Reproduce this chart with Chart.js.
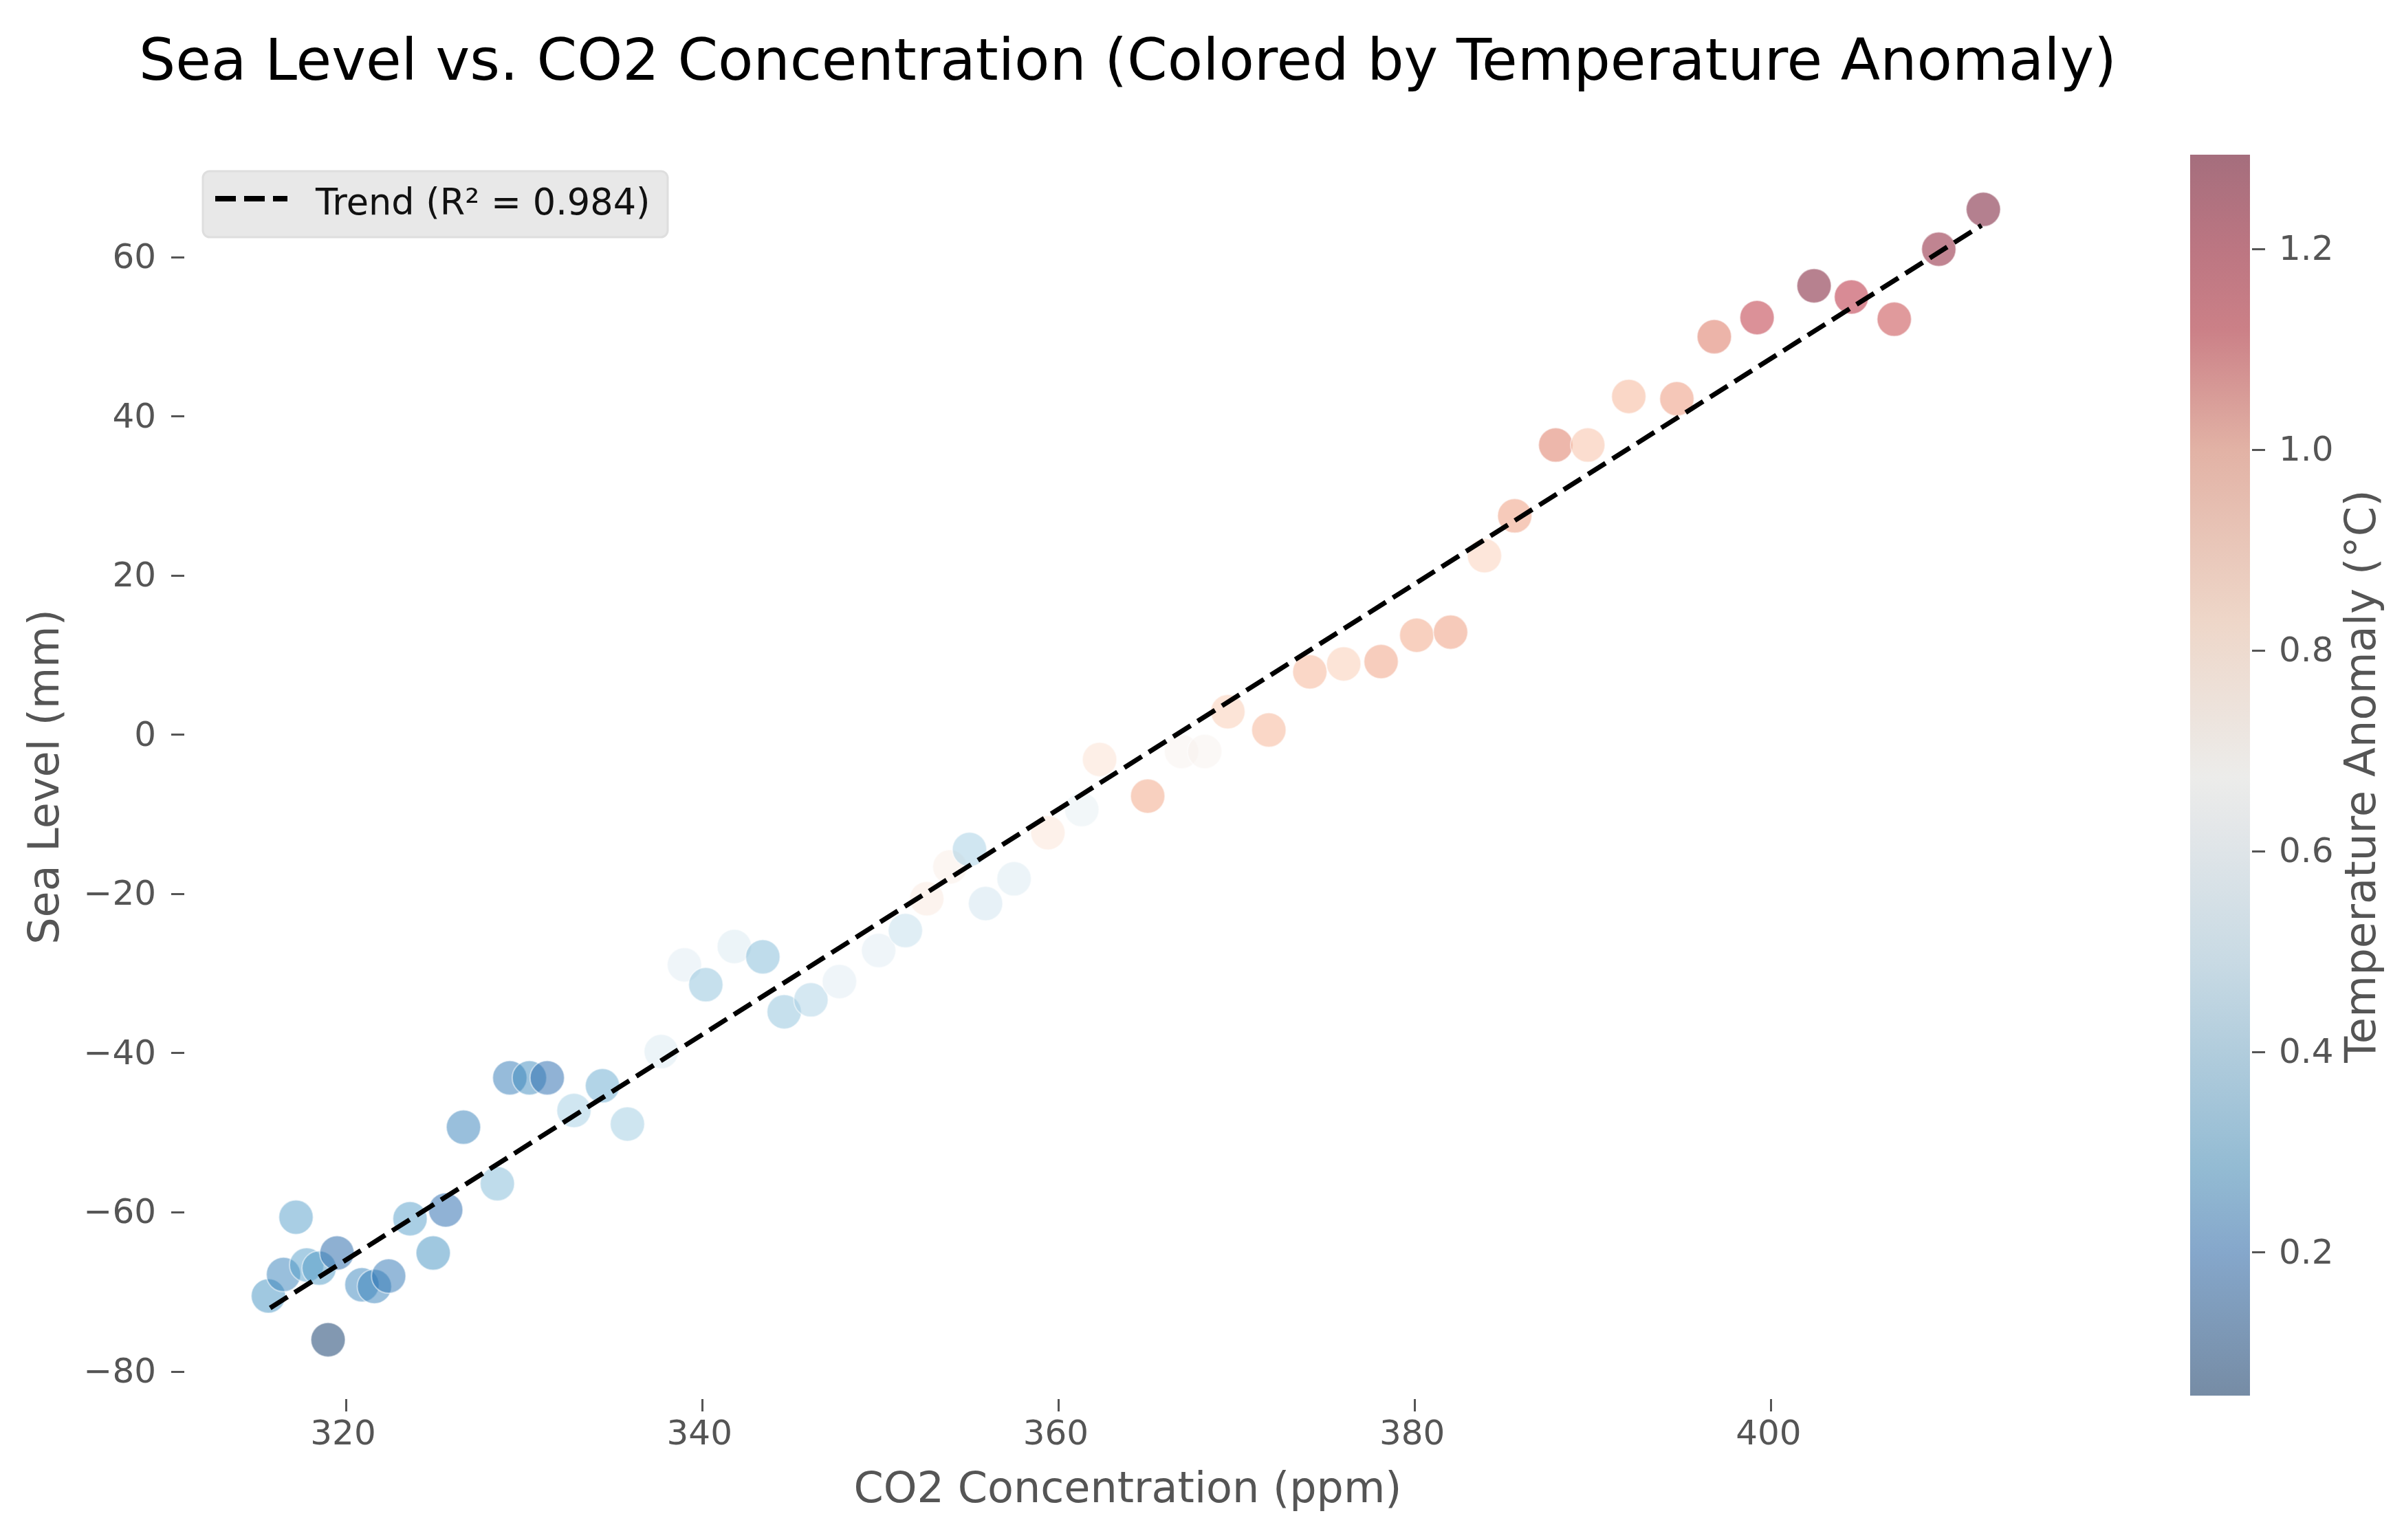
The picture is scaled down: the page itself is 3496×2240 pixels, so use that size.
<!DOCTYPE html>
<html>
<head>
<meta charset="utf-8">
<title>Sea Level vs. CO2</title>
<script src="https://cdn.jsdelivr.net/npm/chart.js@4"></script>
<style>
    html, body { margin: 0; padding: 0; background: #fff; }
    #page { position: relative; width: 3496px; height: 2240px; overflow: hidden; }
    #scatter { position: absolute; left: 0; top: 0; }
    #colorbar { position: absolute; left: 3100px; top: 0; }
</style>
</head>
<body>
<div id="page">
    <canvas id="scatter" width="3280" height="2240"></canvas>
    <canvas id="colorbar" width="396" height="2240"></canvas>
</div>
<script>
var co2 = [315.65, 316.5, 317.2, 317.8, 318.5, 319.5, 319.0, 320.9, 321.6, 322.4, 323.6, 324.9, 325.6, 326.6, 328.5, 329.2,
    330.3, 331.3, 332.8, 334.4, 335.8, 337.7, 339.0, 340.2, 341.8, 343.4, 344.6, 346.1, 347.7, 349.9, 351.4, 352.6,
    353.9, 355.0, 355.9, 357.5, 359.4, 361.3, 362.3, 365.0, 366.9, 368.2, 369.5, 371.8, 374.1, 376.0, 378.1, 380.1,
    382.0, 383.9, 385.6, 387.9, 389.7, 392.0, 394.7, 396.8, 399.2, 402.4, 404.5, 406.9, 409.4, 411.9];
var seaLevel = [-70.5, -67.8, -60.6, -66.6, -67, -65.1, -76, -69.1, -69.3, -68, -60.8, -65.1, -59.7, -49.3, -56.4, -43.1,
    -43.1, -43.1, -47.2, -44.1, -48.9, -39.8, -28.9, -31.4, -26.6, -27.9, -34.8, -33.3, -31, -27.1, -24.6, -20.6,
    -16.6, -14.4, -21.2, -18.1, -12.3, -9.4, -3.1, -7.7, -2.1, -2.1, 2.9, 0.6, 7.9, 8.9, 9.2, 12.5,
    12.9, 22.5, 27.5, 36.4, 36.4, 42.5, 42.2, 50, 52.4, 56.4, 55, 52.2, 61, 66];
var tempAnomaly = [0.3, 0.25, 0.33, 0.33, 0.32, 0.17, 0.06, 0.27, 0.25, 0.22, 0.33, 0.3, 0.18, 0.25, 0.4, 0.23,
    0.28, 0.18, 0.46, 0.36, 0.45, 0.58, 0.6, 0.42, 0.58, 0.4, 0.42, 0.48, 0.6, 0.6, 0.52, 0.74,
    0.72, 0.46, 0.55, 0.58, 0.76, 0.62, 0.78, 0.93, 0.7, 0.7, 0.84, 0.9, 0.9, 0.84, 0.94, 0.93,
    0.95, 0.83, 0.95, 1.02, 0.87, 0.9, 0.96, 1.03, 1.15, 1.28, 1.17, 1.12, 1.25, 1.29];

var trendX = [315.75, 411.8];
var trendY = [-72, 64];
var trendLabel = 'Trend (R² = 0.984)';

var xTicks = [320, 340, 360, 380, 400];
var yTicks = [-80, -60, -40, -20, 0, 20, 40, 60];
var tempTicks = [0.2, 0.4, 0.6, 0.8, 1.0, 1.2];
var tempRange = [0.0575, 1.294];

// RdBu_r
var cmap = [[5, 48, 97], [33, 102, 172], [67, 147, 195], [146, 197, 222], [209, 229, 240], [247, 247, 247],
    [253, 219, 199], [244, 165, 130], [214, 96, 77], [178, 24, 43], [103, 0, 31]];
var pointAlpha = 0.5;

// the colorbar in the picture is greyer than the points, so it has its own colours
var barValues = [0.0575, 0.2, 0.284, 0.489, 0.626, 0.674, 0.831, 1.0, 1.12, 1.2, 1.294];
var barColors = ['rgb(118,140,165)', 'rgb(133,167,203)', 'rgb(147,187,211)', 'rgb(200,218,228)', 'rgb(228,231,233)', 'rgb(236,236,234)',
    'rgb(238,214,200)', 'rgb(226,178,165)', 'rgb(203,128,135)', 'rgb(188,118,130)', 'rgb(165,110,125)'];

var fontFamily = '"DejaVu Sans"';
var gray = '#555555';

Chart.defaults.font.family = fontFamily;
Chart.defaults.color = gray;

function tempColor(v) {
    var t = (v - tempRange[0]) / (tempRange[1] - tempRange[0]);
    var pos = Math.min(Math.max(t, 0), 1) * (cmap.length - 1);
    var i = Math.min(Math.floor(pos), cmap.length - 2);
    var f = pos - i;
    var c = [0, 1, 2].map(function (k) {
        return Math.round(cmap[i][k] + (cmap[i + 1][k] - cmap[i][k]) * f);
    });
    return 'rgba(' + c[0] + ',' + c[1] + ',' + c[2] + ',' + pointAlpha + ')';
}

function minusSign(value) {
    return String(value).replace('-', '\u2212');
}

// legend box sits inside the plot, Chart.js has no option for that
var legendBox = {
    id: 'legendBox',
    afterDraw: function (chart) {
        var ctx = chart.ctx;
        ctx.save();
        ctx.beginPath();
        ctx.roundRect(295, 249, 676, 96, 10);
        ctx.fillStyle = '#e8e8e8';
        ctx.fill();
        ctx.lineWidth = 3;
        ctx.strokeStyle = '#dedede';
        ctx.stroke();

        ctx.beginPath();
        ctx.setLineDash([30, 12]);
        ctx.moveTo(313, 289);
        ctx.lineTo(418, 289);
        ctx.lineWidth = 8;
        ctx.strokeStyle = '#000';
        ctx.stroke();
        ctx.setLineDash([]);

        ctx.fillStyle = '#111';
        ctx.font = '52.5px ' + fontFamily;
        ctx.textBaseline = 'alphabetic';
        ctx.fillText(trendLabel, 459, 312);
        ctx.restore();
    }
};

new Chart(document.getElementById('scatter'), {
    type: 'scatter',
    plugins: [legendBox],
    data: {
        datasets: [{
            label: trendLabel,
            data: trendX.map(function (x, i) { return { x: x, y: trendY[i] }; }),
            showLine: true,
            borderColor: '#000',
            borderWidth: 7,
            borderDash: [30, 12],
            pointRadius: 0,
            order: 0
        }, {
            label: 'Sea Level',
            data: co2.map(function (x, i) { return { x: x, y: seaLevel[i] }; }),
            backgroundColor: tempAnomaly.map(tempColor),
            borderColor: 'rgba(255,255,255,0.5)',
            borderWidth: 2,
            pointRadius: 25,
            order: 1
        }]
    },
    options: {
        responsive: false,
        animation: false,
        devicePixelRatio: 1,
        layout: { padding: 0 },
        plugins: {
            legend: { display: false },
            tooltip: { enabled: false },
            title: {
                display: true,
                text: 'Sea Level vs. CO2 Concentration (Colored by Temperature Anomaly)',
                color: '#000',
                font: { size: 84, weight: 'normal', lineHeight: 1.2 },
                padding: { top: 44, bottom: 80.2 }
            }
        },
        scales: {
            x: {
                type: 'linear',
                min: 310.93,
                max: 416.83,
                border: { display: false },
                grid: { drawOnChartArea: false, drawTicks: true, tickLength: 18, tickWidth: 3, tickColor: gray },
                afterBuildTicks: function (scale) {
                    scale.ticks = xTicks.map(function (v) { return { value: v }; });
                },
                afterFit: function (scale) { scale.height = 205; },
                ticks: { font: { size: 50 }, color: gray, padding: 5, labelOffset: -4, maxRotation: 0, autoSkip: false },
                title: {
                    display: true,
                    text: 'CO2 Concentration (ppm)',
                    color: gray,
                    font: { size: 62, lineHeight: 1.2 },
                    padding: { top: 0, bottom: 34 }
                }
            },
            y: {
                type: 'linear',
                min: -83.45,
                max: 72.87,
                border: { display: false },
                grid: { drawOnChartArea: false, drawTicks: true, tickLength: 19, tickWidth: 3, tickColor: gray },
                afterBuildTicks: function (scale) {
                    scale.ticks = yTicks.map(function (v) { return { value: v }; });
                },
                afterFit: function (scale) { scale.width = 268; },
                ticks: {
                    font: { size: 50 },
                    color: gray,
                    padding: 22,
                    labelOffset: 3,
                    autoSkip: false,
                    callback: function (value) { return minusSign(value); }
                },
                title: {
                    display: true,
                    text: 'Sea Level (mm)',
                    color: gray,
                    font: { size: 62, lineHeight: 1.2 },
                    padding: { top: 32, bottom: 0 }
                }
            },
            // empty axis, only keeps the plot clear of the colorbar and the title centred
            spacer: {
                axis: 'y',
                position: 'right',
                min: 0,
                max: 1,
                border: { display: false },
                grid: { display: false },
                ticks: { display: false },
                afterFit: function (scale) { scale.width = 268; }
            }
        }
    }
});

// rotated label, a right hand axis title would read the other way
var colorbarLabel = {
    id: 'colorbarLabel',
    afterDraw: function (chart) {
        var ctx = chart.ctx;
        ctx.save();
        ctx.translate(338, 1129);
        ctx.rotate(-Math.PI / 2);
        ctx.textAlign = 'center';
        ctx.textBaseline = 'middle';
        ctx.fillStyle = gray;
        ctx.font = '62.5px ' + fontFamily;
        ctx.fillText('Temperature Anomaly (°C)', 0, 0);
        ctx.restore();
    }
};

function colorbarFill(context) {
    var chart = context.chart;
    if (!chart.chartArea) {
        return 'transparent';
    }
    var y = chart.scales.y;
    var gradient = chart.ctx.createLinearGradient(0, y.getPixelForValue(tempRange[0]), 0, y.getPixelForValue(tempRange[1]));
    for (var i = 0; i < barValues.length; i++) {
        gradient.addColorStop((barValues[i] - tempRange[0]) / (tempRange[1] - tempRange[0]), barColors[i]);
    }
    return gradient;
}

new Chart(document.getElementById('colorbar'), {
    type: 'bar',
    plugins: [colorbarLabel],
    data: {
        labels: [''],
        datasets: [{
            data: [tempRange],
            backgroundColor: colorbarFill,
            borderWidth: 0,
            borderSkipped: false,
            barPercentage: 87 / 93,
            categoryPercentage: 1
        }]
    },
    options: {
        responsive: false,
        animation: false,
        devicePixelRatio: 1,
        layout: { padding: { left: 82, right: 0, top: 225, bottom: 210 } },
        plugins: {
            legend: { display: false },
            tooltip: { enabled: false }
        },
        scales: {
            x: { display: false },
            y: {
                position: 'right',
                min: tempRange[0],
                max: tempRange[1],
                border: { display: false },
                grid: { drawOnChartArea: false, drawTicks: true, tickLength: 19, tickWidth: 3, tickColor: gray },
                afterBuildTicks: function (scale) {
                    scale.ticks = tempTicks.map(function (v) { return { value: v }; });
                },
                afterFit: function (scale) { scale.width = 221; },
                ticks: {
                    font: { size: 50 },
                    color: gray,
                    padding: 20,
                    labelOffset: 3,
                    autoSkip: false,
                    callback: function (value) { return value.toFixed(1); }
                }
            }
        }
    }
});
</script>
</body>
</html>
